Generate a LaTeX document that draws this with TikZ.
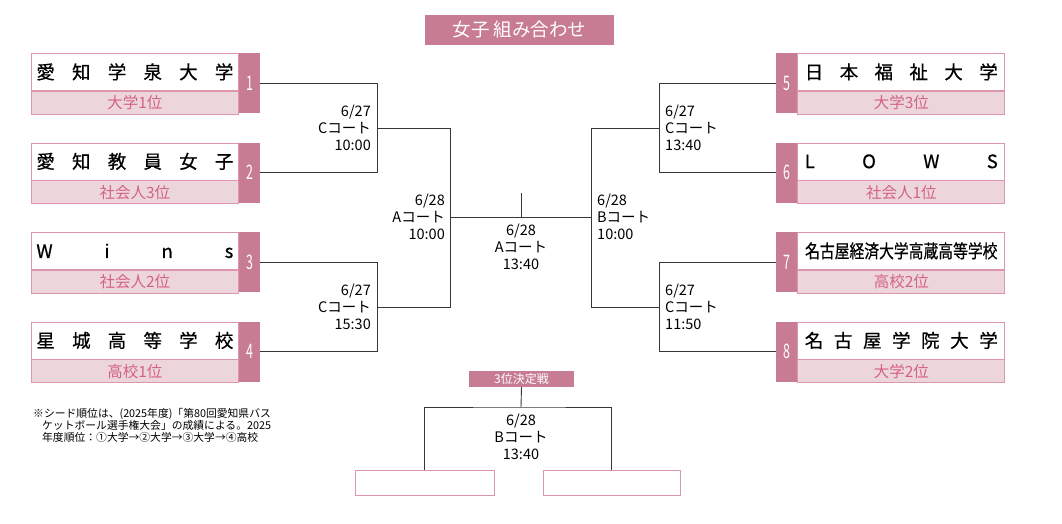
\documentclass[tikz,border=0pt]{standalone}
\usepackage{fontspec}
\setmainfont{Noto Sans CJK JP}
\newfontfamily\namefont[FakeBold=0.6]{Noto Sans CJK JP}
\newfontfamily\condfont[FakeStretch=0.8,FakeBold=0.6]{Noto Sans CJK JP}
\newfontfamily\seedfont[FakeStretch=0.62]{Noto Sans CJK JP}
\usepackage{xcolor}
\usetikzlibrary{positioning, calc}
\definecolor{seedpink}{RGB}{200,124,147}
\definecolor{rankpink}{RGB}{237,213,220}
\definecolor{linepink}{RGB}{222,150,172}
\definecolor{rankred}{RGB}{212,98,130}
\definecolor{wiregray}{RGB}{55,55,55}

\begin{document}
\begin{tikzpicture}[x=1pt, y=-1pt,
  namebox/.style = {rectangle, draw=linepink, fill=white, line width=0.8pt,
                    minimum width=207pt, minimum height=37pt, inner sep=0,
                    font=\namefont\fontsize{18.5}{18.5}\selectfont},
  rankbox/.style = {rectangle, draw=linepink, fill=rankpink, line width=0.8pt,
                    minimum width=207pt, minimum height=23pt, inner sep=0,
                    text=rankred, font=\fontsize{15.5}{15.5}\selectfont},
  seedbox/.style = {rectangle, fill=seedpink, text=white,
                    minimum width=21pt, minimum height=60pt, inner sep=0,
                    font=\seedfont\fontsize{20}{20}\selectfont},
  blank/.style   = {rectangle, draw=linepink, fill=white, line width=0.8pt,
                    minimum height=25pt, inner sep=0},
  tag/.style     = {rectangle, fill=seedpink, text=white, inner sep=0},
  wire/.style    = {draw=wiregray, line width=0.9pt},
  info/.style    = {font=\fontsize{14.5}{16.8}\selectfont, inner sep=0},
]
\useasboundingbox (0,0) rectangle (1062,524);
% ── title ──
\node[tag, minimum width=189pt, minimum height=30pt,
      font=\fontsize{18.5}{18.5}\selectfont] (title) at (519.5,30) {女子 組み合わせ};
% ── left teams ──
\foreach \i/\top/\team/\rank in {
    1/53/{愛\hfill 知\hfill 学\hfill 泉\hfill 大\hfill 学}/大学1位,
    2/142.5/{愛\hfill 知\hfill 教\hfill 員\hfill 女\hfill 子}/社会人3位,
    3/232/{W\hfill i\hfill n\hfill s}/社会人2位,
    4/321.5/{星\hfill 城\hfill 高\hfill 等\hfill 学\hfill 校}/高校1位}
{
  \node[namebox, anchor=north west] (n\i) at (31,\top) {\makebox[197pt]{\team}};
  \node[rankbox, below=0pt of n\i] (r\i) {\rank};
  \node[seedbox, anchor=north west] (s\i) at (n\i.north east) {\i};
}
% ── right teams ──
\foreach \i/\top/\team/\rank in {
    5/53/{日\hfill 本\hfill 福\hfill 祉\hfill 大\hfill 学}/大学3位,
    6/142.5/{L\hfill O\hfill W\hfill S}/社会人1位,
    7/232/{\condfont 名古屋経済大学高蔵高等学校}/高校2位,
    8/321.5/{名\hfill 古\hfill 屋\hfill 学\hfill 院\hfill 大\hfill 学}/大学2位}
{
  \node[seedbox, anchor=north west] (s\i) at (776,\top) {\i};
  \node[namebox, anchor=north west] (n\i) at (s\i.north east) {\makebox[193pt]{\team}};
  \node[rankbox, below=0pt of n\i] (r\i) {\rank};
}
% ── bracket ──
\coordinate (a1) at (377,128);
\coordinate (a2) at (377,307);
\coordinate (a3) at (659,128);
\coordinate (a4) at (659,307);
\coordinate (b1) at (450,217);
\coordinate (b2) at (591,217);
\coordinate (top) at (521,193);
\draw[wire] (s1.east) -| (a1);
\draw[wire] (s2.east) -| (a1);
\draw[wire] (s3.east) -| (a2);
\draw[wire] (s4.east) -| (a2);
\draw[wire] (s5.west) -| (a3);
\draw[wire] (s6.west) -| (a3);
\draw[wire] (s7.west) -| (a4);
\draw[wire] (s8.west) -| (a4);
\draw[wire] (a1) -| (b1);
\draw[wire] (a2) -| (b1);
\draw[wire] (a3) -| (b2);
\draw[wire] (a4) -| (b2);
\draw[wire] (b1) -- (b2);
\draw[wire] (top) -- (top |- b1);
% ── match info ──
\node[info, align=right, anchor=east] (g1) at ($(a1)+(-6,0)$) {6/27\\Cコート\\10:00};
\node[info, align=right, anchor=east] (g2) at ($(a2)+(-6,0)$) {6/27\\Cコート\\15:30};
\node[info, align=left, anchor=west] (g3) at ($(a3)+(6,0)$) {6/27\\Cコート\\13:40};
\node[info, align=left, anchor=west] (g4) at ($(a4)+(6,0)$) {6/27\\Cコート\\11:50};
\node[info, align=right, anchor=east] (g5) at ($(b1)+(-5,0)$) {6/28\\Aコート\\10:00};
\node[info, align=left, anchor=west] (g6) at ($(b2)+(6,0)$) {6/28\\Bコート\\10:00};
\node[info, align=center] (g7) at (521,247) {6/28\\Aコート\\13:40};
% ── 3rd place ──
\node[tag, minimum width=105pt, minimum height=16pt,
      font=\fontsize{12}{12}\selectfont] (t3) at (521.5,379) {3位決定戦};
\node[blank, minimum width=139pt] (e1) at (424.5,482.5) {};
\node[blank, minimum width=137pt] (e2) at (611.5,482.5) {};
\coordinate (h3) at (521,407);
\draw[wire] (t3.south) -- (h3);
\draw[wire] (e1.north) |- (h3) -| (e2.north);
\node[info, align=center] (g8) at (521,437) {6/28\\Bコート\\13:40};
% ── note ──
\node[inner sep=0, anchor=north west, align=left,
      font=\fontsize{10.8}{12}\selectfont] (note) at (33,408)
  {※シード順位は、(2025年度)「第80回愛知県バス\\
   \hspace*{9pt}ケットボール選手権大会」の成績による。2025\\
   \hspace*{9pt}年度順位：①大学→②大学→③大学→④高校};
\end{tikzpicture}
\end{document}
